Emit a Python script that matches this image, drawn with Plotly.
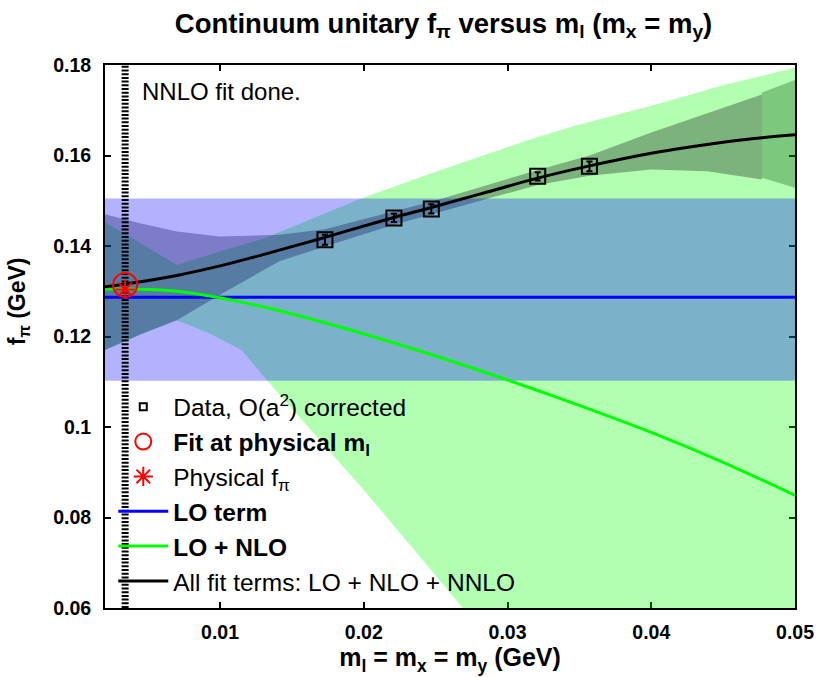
import plotly.graph_objects as go

# ---------------- data ----------------
m_phys = 0.0034          # physical light quark mass (GeV)
fpi_phys = 0.1304        # physical f_pi (GeV)
fpi_fit_phys = 0.1314    # fit evaluated at physical m_l

data_m = [0.0173, 0.0221, 0.0247, 0.0321, 0.0357]
data_f = [0.1414, 0.1462, 0.1482, 0.1554, 0.1576]
data_err = [0.0011, 0.0009, 0.0010, 0.0009, 0.0011]

lo_x = [0.002, 0.05]
lo_f = [0.1287, 0.1287]
lo_band_hi = [0.1505, 0.1505]
lo_band_lo = [0.1102, 0.1102]

nlo_x = [0.002, 0.005, 0.007, 0.0092, 0.0115, 0.014, 0.0189, 0.025, 0.030, 0.0348, 0.040, 0.045, 0.050]
nlo_f = [0.1305, 0.1304, 0.1300, 0.1290, 0.1276, 0.1258, 0.1216, 0.1157, 0.1104, 0.1050, 0.0988, 0.0922, 0.0849]

nlo_band_x_hi = [0.002, 0.0045, 0.007, 0.010, 0.0132, 0.0198, 0.025, 0.0315, 0.0348, 0.040, 0.045, 0.050]
nlo_band_hi = [0.1453, 0.1405, 0.1358, 0.1388, 0.1418, 0.1505, 0.1564, 0.1635, 0.1667, 0.1710, 0.1755, 0.1794]
nlo_band_x_lo = [0.002, 0.0045, 0.007, 0.0092, 0.0115, 0.0133, 0.0200, 0.0270, 0.0350, 0.050]
nlo_band_lo = [0.1170, 0.1205, 0.1236, 0.1208, 0.1170, 0.1102, 0.0861, 0.0596, 0.0280, -0.030]

nnlo_x = [0.002, 0.004, 0.007, 0.010, 0.013, 0.0155, 0.0173, 0.0189, 0.0221, 0.0247, 0.028, 0.0321, 0.0357, 0.040, 0.044, 0.047, 0.050]
nnlo_f = [0.1310, 0.1319, 0.1335, 0.1356, 0.1381, 0.1403, 0.1419, 0.1434, 0.1463, 0.1485, 0.1514, 0.1550, 0.1577, 0.1605, 0.1625, 0.1637, 0.1646]

nnlo_band_x = [0.002, 0.0045, 0.007, 0.010, 0.0141, 0.0173, 0.0221, 0.0247, 0.0321, 0.0357, 0.040, 0.0439, 0.0477]
nnlo_band_hi = [0.1470, 0.1450, 0.1432, 0.1421, 0.1425, 0.1437, 0.1477, 0.1498, 0.1568, 0.1600, 0.1651, 0.1693, 0.1735]
nnlo_band_lo = [0.1170, 0.1205, 0.1236, 0.1292, 0.1366, 0.1399, 0.1447, 0.1469, 0.1535, 0.1555, 0.1569, 0.1565, 0.1547]

ext_band_x = [0.0477, 0.050]
ext_band_hi = [0.1739, 0.1767]
ext_band_lo = [0.1551, 0.1529]

x_ticks = [0.01, 0.02, 0.03, 0.04, 0.05]
x_ticklabels = ["0.01", "0.02", "0.03", "0.04", "0.05"]
y_ticks = [0.06, 0.08, 0.10, 0.12, 0.14, 0.16, 0.18]
y_ticklabels = ["0.06", "0.08", "0.1", "0.12", "0.14", "0.16", "0.18"]

FONT = "Liberation Sans, Arial, Helvetica, sans-serif"

fig = go.Figure()

def band(xh, hi, xl, lo, color):
    return go.Scatter(x=list(xh) + list(xl)[::-1], y=list(hi) + list(lo)[::-1],
                      fill="toself", fillcolor=color, line=dict(width=0),
                      mode="lines", showlegend=False, hoverinfo="skip")

fig.add_trace(band(nlo_band_x_hi, nlo_band_hi, nlo_band_x_lo, nlo_band_lo, "rgba(0,255,0,0.3)"))
fig.add_trace(band(nnlo_band_x, nnlo_band_hi, nnlo_band_x, nnlo_band_lo, "rgba(0,0,0,0.3)"))
fig.add_trace(band(ext_band_x, ext_band_hi, ext_band_x, ext_band_lo, "rgba(0,72,0,0.3)"))
fig.add_trace(band(lo_x, lo_band_hi, lo_x, lo_band_lo, "rgba(0,0,255,0.3)"))

# vertical dotted line at physical m_l
fig.add_trace(go.Scatter(x=[m_phys, m_phys], y=[y_ticks[0], y_ticks[-1]], mode="lines",
                         line=dict(color="black", width=7, dash="2px,1.7px"),
                         showlegend=False, hoverinfo="skip"))

fig.add_trace(go.Scatter(x=lo_x, y=lo_f, mode="lines", line=dict(color="rgb(0,0,255)", width=3),
                         name="<b>LO term</b>", legendrank=4))
fig.add_trace(go.Scatter(x=nlo_x, y=nlo_f, mode="lines", line=dict(color="rgb(0,255,0)", width=3, shape="spline"),
                         name="<b>LO + NLO</b>", legendrank=5))
fig.add_trace(go.Scatter(x=nnlo_x, y=nnlo_f, mode="lines", line=dict(color="black", width=3, shape="spline"),
                         name="All fit terms: LO + NLO + NNLO", legendrank=6))

fig.add_trace(go.Scatter(x=data_m, y=data_f, mode="markers",
                         marker=dict(symbol="square-open", size=15, color="black", line=dict(width=2)),
                         error_y=dict(type="data", array=data_err, color="black", thickness=2, width=3),
                         showlegend=False))
# legend-only entry for the data (small square as in the reference legend)
fig.add_trace(go.Scatter(x=[None], y=[None], mode="markers",
                         marker=dict(symbol="square-open", size=7, color="black", line=dict(width=2)),
                         name="Data, O(a<sup>2</sup>) corrected", legendrank=1))

fig.add_trace(go.Scatter(x=[m_phys], y=[fpi_phys], mode="markers",
                         marker=dict(symbol="asterisk-open", size=16, color="red", line=dict(width=2, color="red")),
                         name="Physical f<sub>π</sub>", legendrank=3))
fig.add_trace(go.Scatter(x=[m_phys], y=[fpi_fit_phys], mode="markers",
                         marker=dict(symbol="circle-open", size=24, color="red", line=dict(width=2, color="red")),
                         name="<b>Fit at physical m<sub>l</sub></b>", legendrank=2))

axis_common = dict(showgrid=False, zeroline=False, showline=True, linecolor="black", linewidth=2,
                   mirror="ticks", ticks="inside", ticklen=6, tickwidth=2, tickcolor="black",
                   layer="below traces",
                   tickfont=dict(family=FONT, size=19.5, color="black", weight="bold"))

fig.update_xaxes(range=[0.002, 0.05], tickvals=x_ticks, ticktext=x_ticklabels,
                 ticklabelstandoff=6,
                 title=dict(text="<b>m<sub>l</sub> = m<sub>x</sub> = m<sub>y</sub> (GeV)</b>",
                            font=dict(family=FONT, size=25, color="black"), standoff=0),
                 **axis_common)
fig.update_yaxes(range=[0.06, 0.18], tickvals=y_ticks, ticktext=y_ticklabels,
                 ticklabelstandoff=8, **axis_common)

fig.add_annotation(text="<b>f<sub>π</sub> (GeV)</b>", textangle=-90, xref="paper", yref="paper",
                   x=-0.126, y=0.565, xanchor="center", yanchor="middle", showarrow=False,
                   font=dict(family=FONT, size=23, color="black"))
fig.add_annotation(text="NNLO fit done.", xref="paper", yref="paper", x=0.05, y=0.951,
                   xanchor="left", yanchor="middle", showarrow=False,
                   font=dict(family=FONT, size=24, color="black"))

fig.update_layout(
    width=826, height=677,
    margin=dict(l=105, r=23, t=65, b=69),
    paper_bgcolor="white", plot_bgcolor="white",
    title=dict(text="<b>Continuum unitary f<sub>π</sub> versus m<sub>l</sub> (m<sub>x</sub> = m<sub>y</sub>)</b>",
               x=0.537, xanchor="center", y=0.966, yanchor="middle",
               font=dict(family=FONT, size=27.5, color="black")),
    legend=dict(x=0.012, y=0.412, xanchor="left", yanchor="top", bgcolor="rgba(0,0,0,0)",
                font=dict(family=FONT, size=24.5, color="black"), traceorder="normal",
                itemwidth=50, tracegroupgap=0),
    font=dict(family=FONT),
)

fig.write_html("out.html")
